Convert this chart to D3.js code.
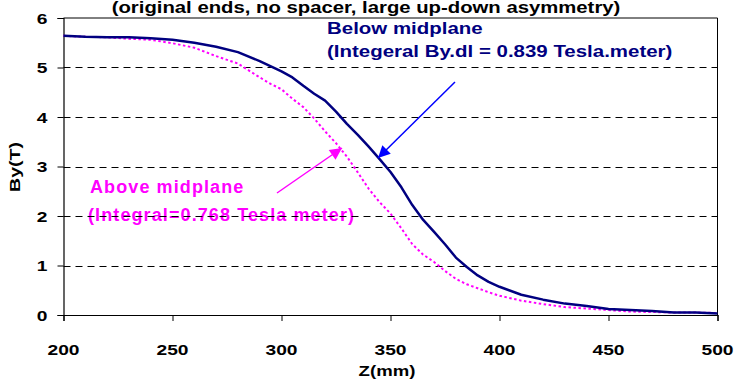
<!DOCTYPE html>
<html>
<head>
<meta charset="utf-8">
<script src="https://cdn.jsdelivr.net/npm/d3@7"></script>
<style>
  html, body { margin: 0; padding: 0; background: #fff; }
  svg { display: block; }
</style>
</head>
<body>
<svg id="chart" width="741" height="383"></svg>
<script>
// Axial position along the magnet (mm)
const zBelow = [200,210,220,230,240,250,260,270,280,290,300,305,310,315,320,325,330,335,340,345,350,355,360,365,370,375,380,385,390,395,400,410,420,430,440,450,460,470,480,490,500];
// Field profile below the midplane (T)
const byBelow = [5.64,5.62,5.61,5.61,5.59,5.56,5.50,5.42,5.31,5.13,4.92,4.80,4.63,4.47,4.33,4.11,3.86,3.64,3.40,3.15,2.89,2.58,2.22,1.92,1.68,1.43,1.16,0.97,0.80,0.67,0.57,0.41,0.31,0.23,0.18,0.12,0.10,0.08,0.05,0.05,0.03];

const zAbove = [200,210,220,230,240,250,260,270,280,290,295,300,305,310,315,320,325,330,335,340,345,350,355,360,365,370,375,380,385,390,395,400,410,420,430,440,450,460,470,480,490,500];
// Field profile above the midplane (T)
const byAbove = [5.64,5.62,5.61,5.58,5.56,5.49,5.40,5.23,5.08,4.80,4.67,4.56,4.37,4.20,3.97,3.71,3.47,3.20,2.88,2.55,2.28,2.05,1.75,1.43,1.22,1.07,0.89,0.73,0.62,0.54,0.46,0.39,0.29,0.22,0.16,0.13,0.10,0.07,0.06,0.05,0.05,0.04];

const xTicks = [200,250,300,350,400,450,500];
const yTicks = [0,1,2,3,4,5,6];
const gridValues = [1,2,3,4,5];

const titleText = "(original ends, no spacer, large up-down asymmetry)";
const belowLabel = ["Below midplane", "(Integeral By.dl = 0.839 Tesla.meter)"];
const aboveLabel = ["Above midplane", "(Integral=0.768 Tesla meter)"];

const svg = d3.select("#chart");
const plot = { left: 63.5, right: 717.5, top: 18, bottom: 315 };

const x = d3.scaleLinear().domain([200, 500]).range([plot.left, plot.right]);
const y = d3.scaleLinear().domain([0, 6]).range([plot.bottom, plot.top]);

const FONT = "'Liberation Sans', Arial, Helvetica, sans-serif";

// Bold text, widened horizontally around its anchor point
function label(g, px, py, str, o) {
  const t = g.append("text")
    .attr("transform", `translate(${px},${py})` + (o.rotate ? ` rotate(${o.rotate})` : "") + ` scale(${o.sx || 1},1)`)
    .attr("font-family", FONT)
    .attr("font-weight", "bold")
    .attr("font-size", o.size)
    .attr("fill", o.fill || "#000")
    .attr("text-anchor", o.anchor || "start")
    .text(str);
  if (o.ls) t.attr("letter-spacing", o.ls);
  return t;
}

svg.append("rect").attr("width", 741).attr("height", 383).attr("fill", "#fff");

// Title line (its upper part runs off the top edge)
label(svg, 366, 13, titleText, { size: 16, sx: 1.27, anchor: "middle" });

// Annotation text sits beneath the gridlines
const ann = svg.append("g");
label(ann, 327, 34, belowLabel[0], { size: 16.5, sx: 1.24, fill: "#000080" });
label(ann, 327, 57, belowLabel[1], { size: 16.5, sx: 1.24, fill: "#000080" });
label(ann, 90, 193, aboveLabel[0], { size: 18, ls: 1.1, fill: "#ff00ff" });
label(ann, 88, 221, aboveLabel[1], { size: 18, ls: 1.1, fill: "#ff00ff" });

// Dashed horizontal gridlines
svg.append("g").selectAll("line").data(gridValues).join("line")
  .attr("x1", plot.left).attr("x2", plot.right)
  .attr("y1", d => Math.round(y(d)) + 0.5).attr("y2", d => Math.round(y(d)) + 0.5)
  .attr("stroke", "#000").attr("stroke-width", 1)
  .attr("stroke-dasharray", "7,5");

// Plot frame: top and right edges
svg.append("path")
  .attr("d", `M${plot.left},${plot.top}H${plot.right}V${plot.bottom}`)
  .attr("fill", "none").attr("stroke", "#000").attr("stroke-width", 1);

// Axes
const yAxis = d3.axisLeft(y).tickValues(yTicks).tickSize(6).tickFormat(d3.format("d"));
const xAxis = d3.axisBottom(x).tickValues(xTicks).tickSize(6).tickFormat(d3.format("d"));

const gy = svg.append("g").attr("transform", `translate(${plot.left},0)`).call(yAxis);
const gx = svg.append("g").attr("transform", `translate(0,${plot.bottom})`).call(xAxis);
[gx, gy].forEach(g => {
  g.select(".domain").attr("stroke", "#000").attr("stroke-width", 1.2);
  g.selectAll(".tick line").attr("stroke", "#000");
  g.selectAll(".tick text").remove();
});

// Tick labels drawn as widened bold text
yTicks.forEach(v => label(svg, plot.left - 16, y(v) + 5.5, String(v), { size: 15, sx: 1.28, anchor: "end" }));
xTicks.forEach(v => label(svg, x(v), 355, String(v), { size: 15, sx: 1.28, anchor: "middle" }));

// Axis titles
label(svg, 387, 376, "Z(mm)", { size: 15, sx: 1.24, anchor: "middle" });
label(svg, 19.5, 167, "By(T)", { size: 15, sx: 1.3, anchor: "middle", rotate: -90 });

// Field curves
const line = d3.line().x(d => x(d[0])).y(d => y(d[1]));

svg.append("path")
  .datum(d3.zip(zAbove, byAbove))
  .attr("d", line)
  .attr("fill", "none")
  .attr("stroke", "#ff00ff")
  .attr("stroke-width", 2)
  .attr("stroke-dasharray", "2.5,2.5");

svg.append("path")
  .datum(d3.zip(zBelow, byBelow))
  .attr("d", line)
  .attr("fill", "none")
  .attr("stroke", "#000080")
  .attr("stroke-width", 2.5)
  .attr("stroke-linejoin", "round");

// Arrow heads
const defs = svg.append("defs");
[["headBlue", "#0000ff"], ["headPink", "#ff00ff"]].forEach(([id, c]) => {
  defs.append("marker")
    .attr("id", id)
    .attr("viewBox", "0 0 10 10")
    .attr("refX", 10).attr("refY", 5)
    .attr("markerUnits", "userSpaceOnUse")
    .attr("markerWidth", 14).attr("markerHeight", 12)
    .attr("orient", "auto")
    .append("path").attr("d", "M0,0L10,5L0,10Z").attr("fill", c);
});

svg.append("line")
  .attr("x1", 455).attr("y1", 82).attr("x2", 378).attr("y2", 158)
  .attr("stroke", "#0000ff").attr("stroke-width", 1.5)
  .attr("marker-end", "url(#headBlue)");

svg.append("line")
  .attr("x1", 277).attr("y1", 193).attr("x2", 342).attr("y2", 148)
  .attr("stroke", "#ff00ff").attr("stroke-width", 1.5)
  .attr("marker-end", "url(#headPink)");
</script>
</body>
</html>
